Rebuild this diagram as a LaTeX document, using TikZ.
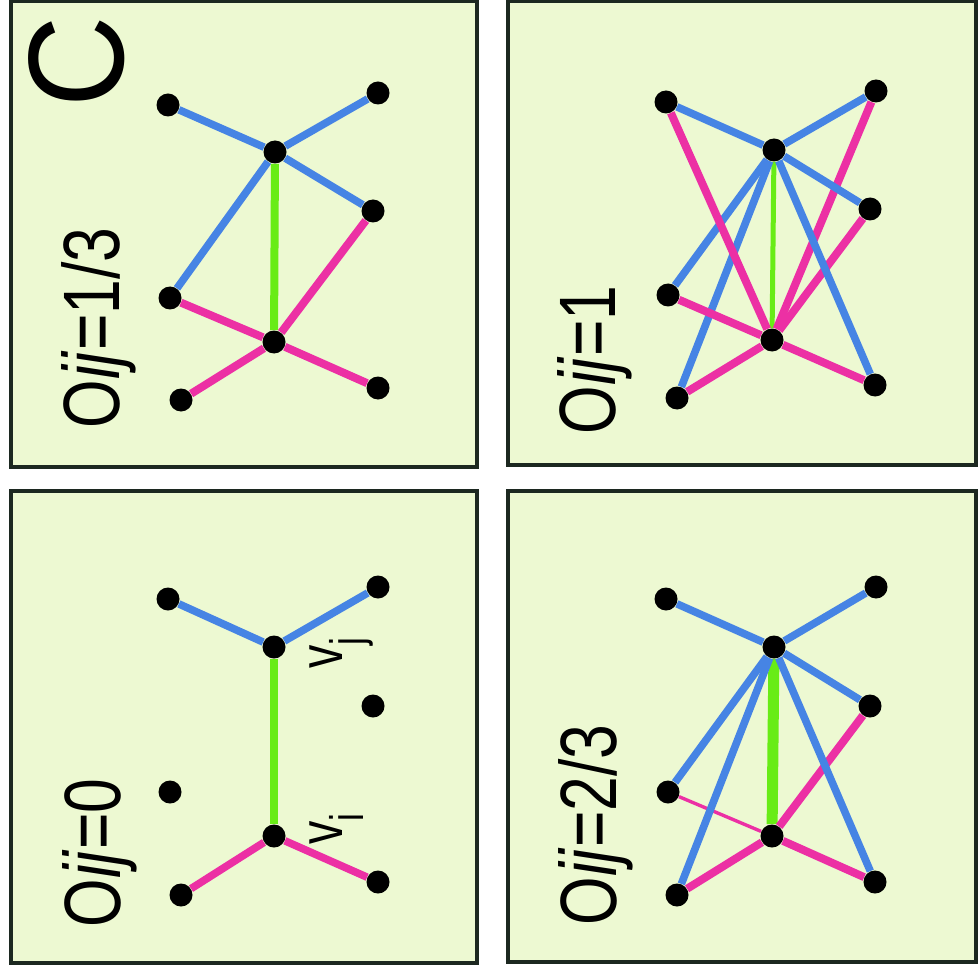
\documentclass[tikz,border=0pt]{standalone}
\usepackage{fontspec}
\setmainfont{Liberation Sans}
\definecolor{panelfill}{RGB}{237,249,210}
\definecolor{panelrim}{RGB}{28,40,32}
\definecolor{linkblue}{RGB}{70,132,228}
\definecolor{linkpink}{RGB}{236,48,164}
\definecolor{linkgreen}{RGB}{104,236,22}
\begin{document}
\begin{tikzpicture}[x=0.5pt, y=-0.5pt,
    panel/.style={draw=panelrim, line width=2pt, fill=panelfill},
    dot/.style={circle, fill=black, inner sep=0pt, minimum size=11.5pt},
    bluelink/.style={line width=3.8pt, draw=linkblue},
    pinklink/.style={line width=4pt, draw=linkpink},
    greenlink/.style={line width=4pt, draw=linkgreen},
    caption/.style={rotate=90, xscale=0.78, anchor=base, inner sep=0pt,
        font=\fontsize{40}{40}\selectfont},
    vlabel/.style={rotate=90, xscale=0.75, anchor=base west, inner sep=0pt,
        font=\fontsize{31}{31}\selectfont}
]
\useasboundingbox (0,0) rectangle (978,978);

% Panels
\draw[panel] (11,1) rectangle (477,467);
\draw[panel] (508,1) rectangle (976,465);
\draw[panel] (11,491) rectangle (477,963);
\draw[panel] (508,491) rectangle (976,962);

% Top left: Oij=1/3
\node[rotate=90, xscale=0.93, inner sep=0pt, font=\fontsize{68}{68}\selectfont] (tag) at (77,62) {C};
\node[caption] (pcap) at (119,328) {O\textit{ij}=1/3};
\node[dot] (pTL) at (168,105) {};
\node[dot] (pTR) at (378,93) {};
\node[dot] (pvj) at (275,152) {};
\node[dot] (pRM) at (373,211) {};
\node[dot] (pLM) at (170,298) {};
\node[dot] (pvi) at (274,342) {};
\node[dot] (pBL) at (181,400) {};
\node[dot] (pBR) at (378,388) {};
\draw[bluelink] (pTL) -- (pvj);
\draw[bluelink] (pTR) -- (pvj);
\draw[bluelink] (pRM) -- (pvj);
\draw[bluelink] (pLM) -- (pvj);
\draw[greenlink] (pvj) -- (pvi);
\draw[pinklink] (pLM) -- (pvi);
\draw[pinklink] (pRM) -- (pvi);
\draw[pinklink] (pBL) -- (pvi);
\draw[pinklink] (pBR) -- (pvi);

% Top right: Oij=1
\node[caption] (qcap) at (615,360) {O\textit{ij}=1};
\node[dot] (qTL) at (666,102) {};
\node[dot] (qTR) at (876,91) {};
\node[dot] (qvj) at (774,150) {};
\node[dot] (qRM) at (870,209) {};
\node[dot] (qLM) at (668,295) {};
\node[dot] (qvi) at (772,340) {};
\node[dot] (qBL) at (677,398) {};
\node[dot] (qBR) at (875,385) {};
\draw[greenlink, line width=2.5pt] (qvj) -- (qvi);
\draw[pinklink] (qTR) -- (qvi);
\draw[pinklink] (qRM) -- (qvi);
\draw[pinklink] (qBR) -- (qvi);
\draw[bluelink] (qTL) -- (qvj);
\draw[bluelink] (qTR) -- (qvj);
\draw[bluelink] (qRM) -- (qvj);
\draw[bluelink] (qLM) -- (qvj);
\draw[bluelink] (qBL) -- (qvj);
\draw[bluelink] (qBR) -- (qvj);
\draw[pinklink] (qTL) -- (qvi);
\draw[pinklink] (qLM) -- (qvi);
\draw[pinklink] (qBL) -- (qvi);

% Bottom left: Oij=0
\node[caption] (rcap) at (120,853) {O\textit{ij}=0};
\node[dot] (rTL) at (168,599) {};
\node[dot] (rTR) at (378,587) {};
\node[dot] (rvj) at (274,647) {};
\node[dot] (rRM) at (373,706) {};
\node[dot] (rLM) at (170,792) {};
\node[dot] (rvi) at (274,836) {};
\node[dot] (rBL) at (181,895) {};
\node[dot] (rBR) at (378,882) {};
\node[vlabel] (rvjtag) at (342,669) {v\raisebox{-10.5pt}{\fontsize{23.5}{23.5}\selectfont j}};
\node[vlabel] (rvitag) at (342,845) {v\raisebox{-10.5pt}{\fontsize{23.5}{23.5}\selectfont i}};
\draw[bluelink] (rTL) -- (rvj);
\draw[bluelink] (rTR) -- (rvj);
\draw[greenlink, line width=3.6pt] (rvj) -- (rvi);
\draw[pinklink, line width=3.8pt] (rBL) -- (rvi);
\draw[pinklink, line width=3.8pt] (rBR) -- (rvi);

% Bottom right: Oij=2/3
\node[caption] (scap) at (616,825) {O\textit{ij}=2/3};
\node[dot] (sTL) at (666,599) {};
\node[dot] (sTR) at (876,587) {};
\node[dot] (svj) at (774,647) {};
\node[dot] (sRM) at (870,706) {};
\node[dot] (sLM) at (668,792) {};
\node[dot] (svi) at (772,836) {};
\node[dot] (sBL) at (677,895) {};
\node[dot] (sBR) at (875,882) {};
\draw[greenlink, line width=5.5pt] (svj) -- (svi);
\draw[pinklink, line width=1.7pt] (sLM) -- (svi);
\draw[pinklink] (sRM) -- (svi);
\draw[pinklink] (sBL) -- (svi);
\draw[pinklink] (sBR) -- (svi);
\draw[bluelink] (sTL) -- (svj);
\draw[bluelink] (sTR) -- (svj);
\draw[bluelink] (sRM) -- (svj);
\draw[bluelink] (sLM) -- (svj);
\draw[bluelink] (sBL) -- (svj);
\draw[bluelink] (sBR) -- (svj);

\end{tikzpicture}
\end{document}
